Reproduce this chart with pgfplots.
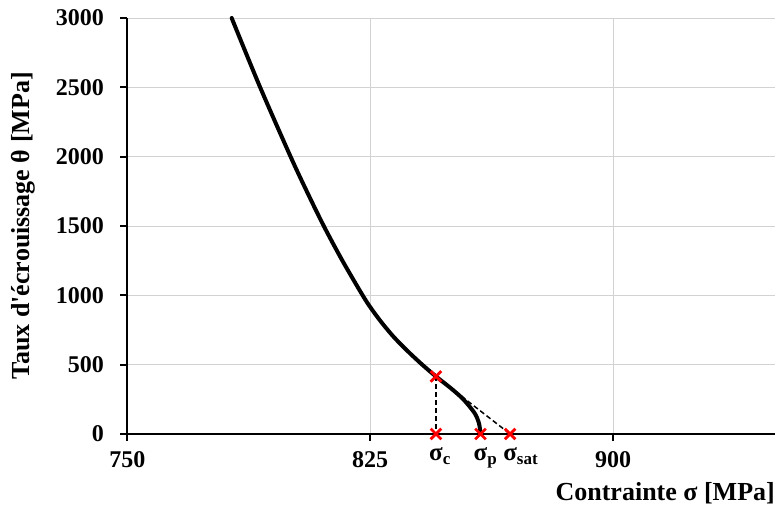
\documentclass[border=0pt]{standalone}
\usepackage{fontspec}
\setmainfont{Liberation Serif}
\usepackage{pgfplots}
\pgfplotsset{compat=1.18}
\begin{document}
\begin{tikzpicture}
\begin{axis}[
  scale only axis, width=647.6pt, height=416pt,
  xmin=750, xmax=950, ymin=0, ymax=3000,
  axis lines=left, axis line style={line width=1.8pt,-},
  xtick={750,825,900}, ytick={0,500,1000,1500,2000,2500,3000},
  grid=major, major grid style={gray!35, line width=0.9pt},
  tick align=outside, major tick length=7pt,
  tick style={black, line width=1.8pt},
  /pgf/number format/assume math mode=true,
  /pgf/number format/1000 sep={},
  ticklabel style={font=\bfseries\fontsize{24}{26}\selectfont},
  yticklabel style={xshift=-13pt},
  xticklabel style={yshift=-7pt},
  xlabel={Contrainte σ [MPa]},
  xlabel style={at={(axis description cs:1,-0.142)}, anchor=east, inner sep=0pt, font=\bfseries\fontsize{26}{28}\selectfont},
  ylabel={Taux d\textquotesingle écrouissage θ [MPa]},
  ylabel style={at={(axis description cs:-0.16,0.5)}, anchor=center, inner sep=0pt, font=\bfseries\fontsize{26}{28}\selectfont},
  clip=false,
]
\addplot[black, line width=4pt, smooth, tension=0.5, line cap=round] coordinates {
  (782.2,3000) (791.0,2500) (800.4,2000) (805.4,1750) (810.65,1500)
  (816.4,1250) (822.65,1000) (825.45,900) (828.65,800) (832.25,700)
  (836.45,600) (841.05,500) (845.3,415) (849.9,330) (853.75,250)
  (857.25,150) (858.6,75) (859.05,0)
};
\addplot[black, line width=1.5pt, dash pattern=on 5pt off 3pt] coordinates {(845.3,415) (845.3,0)};
\addplot[black, line width=1.5pt, dash pattern=on 5pt off 3pt] coordinates {(845.3,415) (868.2,0)};
\addplot[only marks, red, mark=x, mark size=7.5pt, line width=2.8pt] coordinates {
  (845.3,415) (845.3,0) (859.05,0) (868.2,0)
};
\node[anchor=north, yshift=-13pt, inner sep=0pt, font=\bfseries\fontsize{25}{26}\selectfont] at (axis cs:845.3,0) {σ\rlap{\raisebox{-0.4ex}{\fontsize{17}{18}\selectfont c}}};
\node[anchor=north, yshift=-13pt, inner sep=0pt, font=\bfseries\fontsize{25}{26}\selectfont] at (axis cs:859.05,0) {σ\rlap{\raisebox{-0.4ex}{\fontsize{17}{18}\selectfont p}}};
\node[anchor=north, yshift=-13pt, inner sep=0pt, font=\bfseries\fontsize{25}{26}\selectfont] at (axis cs:868.2,0) {σ\rlap{\raisebox{-0.4ex}{\fontsize{17}{18}\selectfont sat}}};
\end{axis}
\pgfresetboundingbox
\path[use as bounding box] (-127.4pt,-74pt) rectangle (649.6pt,434pt);
\end{tikzpicture}
\end{document}
